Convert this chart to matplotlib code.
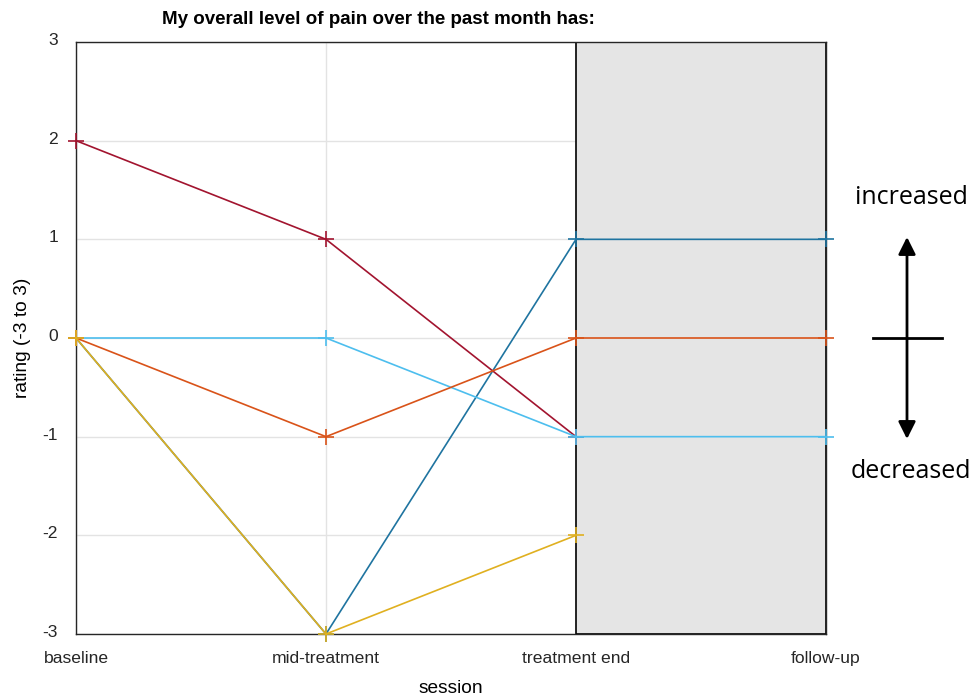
import matplotlib
matplotlib.use("Agg")
import matplotlib.pyplot as plt
from matplotlib.patches import FancyArrowPatch
from matplotlib.transforms import ScaledTranslation

plt.rcParams['font.family'] = ['Liberation Sans', 'DejaVu Sans']

sessions = ["baseline", "mid-treatment", "treatment end", "follow-up"]
yticks = [3, 2, 1, 0, -1, -2, -3]

# one rating sequence per participant (None = no rating at that session)
p_darkred = [2, 1, -1, None]
p_darkblue = [0, -3, 1, 1]
p_lightblue = [0, 0, -1, -1]
p_orange = [0, -1, 0, 0]
p_yellow = [0, -3, -2, None]

series = [
    (p_darkblue, "#1f74a0"),
    (p_darkred, "#a2142f"),
    (p_lightblue, "#4dbeee"),
    (p_orange, "#d95319"),
    (p_yellow, "#e0b020"),
]

fig = plt.figure(figsize=(9.79, 6.98), dpi=100)
ax = fig.add_axes([76/979, 1 - 634/698, (826 - 76)/979, (634 - 42)/698])

x = list(range(len(sessions)))
ax.axvspan(2, 3, facecolor="#e5e5e5", edgecolor="black", linewidth=1.2, zorder=1)

for vals, col in series:
    xs = [xi for xi, v in zip(x, vals) if v is not None]
    ys = [v for v in vals if v is not None]
    ax.plot(xs, ys, color=col, linewidth=1.2, marker="+", markersize=11,
            markeredgewidth=1.2, zorder=3, clip_on=False)

ax.set_xlim(0, 3)
ax.set_ylim(-3, 3)
ax.set_xticks(x)
ax.set_xticklabels(sessions, fontsize=12.6)
ax.set_yticks(yticks)
ax.set_yticklabels([str(v) for v in yticks], fontsize=12.6)
ax.tick_params(length=0, pad=13, colors="#262626")
ax.tick_params(axis="x", pad=12)
shift = ScaledTranslation(0, 3/100, fig.dpi_scale_trans)
for lbl in ax.get_yticklabels():
    lbl.set_transform(lbl.get_transform() + shift)
ax.grid(True, color="#e3e3e3", linewidth=1)
ax.set_axisbelow(True)
for s in ax.spines.values():
    s.set_color("#262626")
    s.set_linewidth(1.0)

ax.set_ylabel("rating (-3 to 3)", fontsize=13.8, labelpad=8)
ax.set_xlabel("session", fontsize=13.8, labelpad=10)

fig.text(378/979, 1 - 20/698, "My overall level of pain over the past month has:",
         ha="center", va="center", fontsize=13.5, fontweight="bold")

# direction key on the right
key_font = ["Open Sans", "DejaVu Sans"]
fig.text(911/979, 1 - 198/698, "increased", ha="center", va="center",
         fontsize=18, family=key_font)
fig.text(911/979, 1 - 471/698, "decreased", ha="center", va="center",
         fontsize=18, family=key_font)
arrow = FancyArrowPatch((907/979, 1 - 237/698), (907/979, 1 - 439/698),
                        transform=fig.transFigure, arrowstyle="<|-|>",
                        mutation_scale=26, linewidth=2, color="black",
                        shrinkA=0, shrinkB=0)
fig.patches.append(arrow)
fig.add_artist(plt.Line2D([873/979, 942/979], [1 - 338/698, 1 - 338/698],
                          transform=fig.transFigure, color="black", linewidth=2))

fig.savefig("out.png", dpi=100)
